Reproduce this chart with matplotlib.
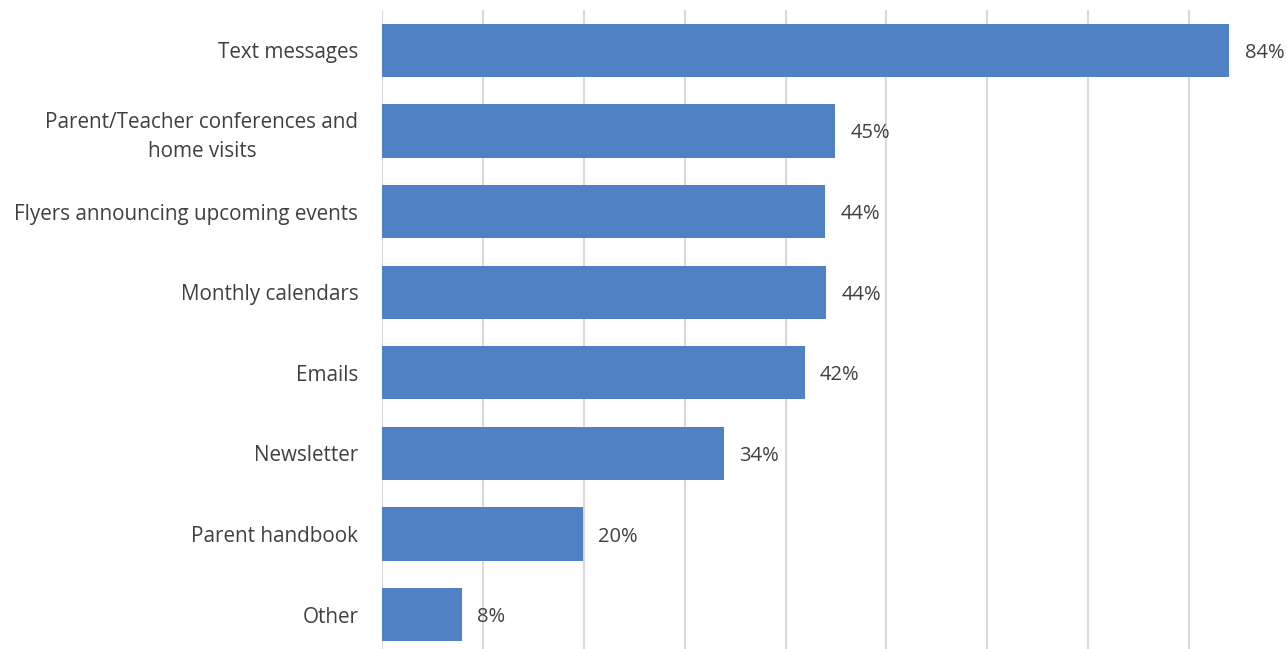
import matplotlib
matplotlib.use('Agg')
import matplotlib.pyplot as plt
import numpy as np

# categories from top to bottom
categories = ['Text messages',
              'Parent/Teacher conferences and\nhome visits',
              'Flyers announcing upcoming events',
              'Monthly calendars',
              'Emails',
              'Newsletter',
              'Parent handbook',
              'Other']
values = [84.0, 44.9, 43.9, 44.0, 41.9, 33.9, 19.9, 7.9]
value_labels = ['84%', '45%', '44%', '44%', '42%', '34%', '20%', '8%']
x_ticks = np.arange(0, 100, 10)

bar_color = '#4F81C4'
grid_color = '#D9D9D9'
text_color = '#404040'

plt.rcParams['font.family'] = ['Open Sans', 'DejaVu Sans']

fig = plt.figure(figsize=(12.87, 6.49), dpi=100)
ax = fig.add_axes([0.2968, -0.0092, 0.7055, 0.9938])

y = np.arange(len(categories))
bars = ax.barh(y, values, height=0.66, color=bar_color, zorder=3)
ax.set_ylim(len(categories) - 0.5, -0.5)
ax.set_xlim(0, 90)

ax.set_yticks(y)
ax.set_yticklabels(categories, fontsize=14.9, color=text_color,
                   multialignment='center', linespacing=1.45)
ax.set_xticks(x_ticks)
ax.set_xticklabels([])
ax.tick_params(axis='both', length=0)
ax.tick_params(axis='y', pad=17)

# vertical gridlines behind bars
ax.grid(axis='x', color=grid_color, linewidth=1.5, zorder=0)
for s in ax.spines.values():
    s.set_visible(False)

# value labels
labels = ax.bar_label(bars, labels=value_labels, padding=11, fontsize=14.5,
                      color=text_color)
for t in labels:
    t.set_va('center_baseline')

fig.savefig('out.png', dpi=100)
